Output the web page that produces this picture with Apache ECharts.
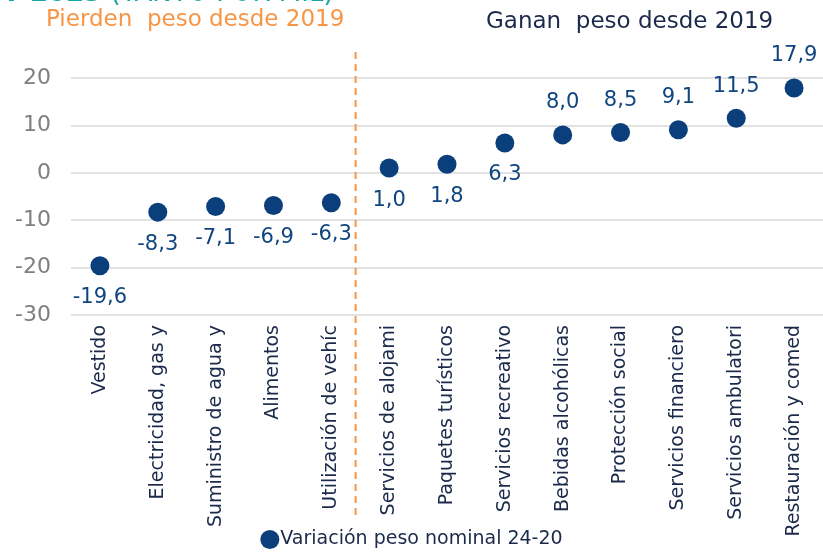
<!DOCTYPE html>
<html>
<head>
<meta charset="utf-8">
<script src="https://cdn.jsdelivr.net/npm/echarts@6/dist/echarts.min.js"></script>
<style>
  html, body { margin: 0; padding: 0; background: #fff; }
  #chart { width: 823px; height: 555px; }
</style>
</head>
<body>
<div id="chart"></div>
<script>
// datos
var categorias = ['Vestido', 'Electricidad, gas y', 'Suministro de agua y', 'Alimentos', 'Utilización de vehíc',
    'Servicios de alojami', 'Paquetes turísticos', 'Servicios recreativo', 'Bebidas alcohólicas',
    'Protección social', 'Servicios financiero', 'Servicios ambulatori', 'Restauración y comed'];
var variacion = [-19.6, -8.3, -7.1, -6.9, -6.3, 1.0, 1.8, 6.3, 8.0, 8.5, 9.1, 11.5, 17.9];
var separador = 4.92; // posicion de la linea discontinua (en categorias)

var fuente = 'DejaVu Sans, Verdana, sans-serif';
var azul = '#0b3f7c';

var puntos = variacion.map(function (v) {
    return {
        value: v,
        label: { position: v >= 7 ? 'top' : 'bottom' }
    };
});

var myChart = echarts.init(document.getElementById('chart'));

var option = {
    animation: false,
    textStyle: { fontFamily: fuente },
    title: [
        {
            text: '{b|Y 2023} (TANTO POR MIL)',
            left: -3, top: -24,
            textStyle: {
                fontFamily: fuente, fontSize: 26, fontWeight: 'normal', color: '#17a5a5',
                rich: { b: { fontFamily: fuente, fontSize: 26, fontWeight: 'bold', color: '#17a5a5' } }
            }
        },
        {
            text: 'Pierden  peso desde 2019',
            left: 41, top: 4,
            textStyle: { fontFamily: fuente, fontSize: 23, fontWeight: 'normal', color: '#f79646' }
        },
        {
            text: 'Ganan  peso desde 2019',
            left: 481, top: 6,
            textStyle: { fontFamily: fuente, fontSize: 23, fontWeight: 'normal', color: '#1b2a4a' }
        }
    ],
    legend: {
        bottom: 1, left: 'center',
        itemWidth: 19, itemHeight: 19, itemGap: 2,
        icon: 'circle',
        textStyle: { fontFamily: fuente, fontSize: 19, color: '#1b2a4a', padding: [0, 0, 0, -4] },
        data: ['Variación peso nominal 24-20']
    },
    grid: [
        { left: 71, right: 0, top: 78, bottom: 240 },
        { left: 71, right: 0, top: 48, bottom: 40 }
    ],
    xAxis: [
        {
            type: 'category',
            gridIndex: 0,
            data: categorias,
            axisLine: { show: false },
            axisTick: { show: false },
            axisLabel: {
                rotate: 90, interval: 0, margin: 10,
                fontFamily: fuente, fontSize: 19, color: '#1b2a4a'
            }
        },
        {
            type: 'value', gridIndex: 1, min: 0, max: 13, show: false
        }
    ],
    yAxis: [
        {
            type: 'value',
            gridIndex: 0,
            min: -30, max: 20, interval: 10,
            axisLine: { show: false },
            axisTick: { show: false },
            axisLabel: { margin: 20, fontFamily: fuente, fontSize: 22, color: '#7f7f7f' },
            splitLine: { lineStyle: { color: '#d9d9d9', width: 1.5 } }
        },
        {
            type: 'value', gridIndex: 1, min: 0, max: 1, show: false
        }
    ],
    series: [
        {
            name: 'Variación peso nominal 24-20',
            type: 'scatter',
            xAxisIndex: 0, yAxisIndex: 0,
            symbolSize: 19,
            itemStyle: { color: azul, opacity: 1 },
            label: {
                show: true, distance: 12,
                fontFamily: fuente, fontSize: 21, color: '#10457f',
                formatter: function (p) { return p.value.toFixed(1).replace('.', ','); }
            },
            data: puntos
        },
        {
            name: 'separador',
            type: 'line',
            xAxisIndex: 1, yAxisIndex: 1,
            symbol: 'none',
            lineStyle: { color: '#f79646', width: 2, type: [7, 5] },
            data: [[separador, 0], [separador, 1]]
        }
    ]
};

option && myChart.setOption(option);
</script>
</body>
</html>
